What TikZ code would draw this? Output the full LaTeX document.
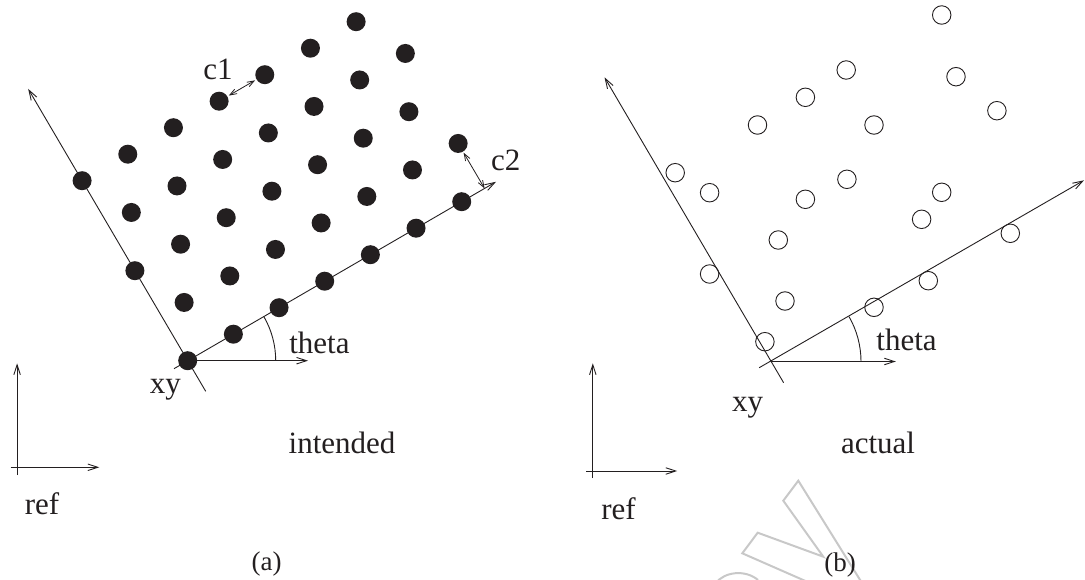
\documentclass[tikz,border=0pt]{standalone}
\usepackage{fontspec}
\setmainfont{Liberation Serif}
\usetikzlibrary{arrows.meta}
\definecolor{ink}{RGB}{35,31,32}
\definecolor{wm}{RGB}{200,200,200}
\begin{document}
\begin{tikzpicture}[x=1pt,y=-1pt,color=ink,
  dotf/.style={circle,fill=ink,inner sep=0pt,minimum size=19pt},
  dotc/.style={circle,draw=ink,line width=0.9pt,inner sep=0pt,minimum size=18.5pt},
  lbl/.style={text=ink,font=\fontsize{31}{36}\selectfont,inner sep=0pt},
  sublbl/.style={text=ink,font=\fontsize{27}{32}\selectfont,inner sep=0pt},
  axis/.style={draw=ink,line width=0.9pt,-{Straight Barb[length=10pt,width=6.5pt]}},
  plainline/.style={draw=ink,line width=0.9pt},
  dimarrow/.style={draw=ink,line width=0.8pt,{Straight Barb[length=7pt,width=5pt]}-{Straight Barb[length=7pt,width=5pt]}},
  wmline/.style={draw=wm,line width=2pt,line join=miter}]
\useasboundingbox (0,0) rectangle (1085,580);

% ---------- watermark ----------
\begin{scope}
\clip (0,0) rectangle (1085,580);
\draw[wmline] (862,583) -- (798.3,480.7) -- (783.3,500.7) -- (823.3,556.7) -- (757.7,532.7) -- (742.3,553.3) -- (810,583);
\draw[wmline] (716,583) .. controls (724,572) and (745,569) .. (758,580);
\end{scope}

% ---------- panel (a): coordinates ----------
\coordinate (Oa) at (187.7,360.7);
\coordinate (laTail) at (205.7,391.3);
\coordinate (laTip) at (28.2,88.9);
\coordinate (baTail) at (174,368.7);
\coordinate (baTip) at (496,181.8);
\coordinate (haTip) at (308,360.7);
\coordinate (arcAs) at (275.7,360.7);
\coordinate (c2foot) at (484.6,188.45);
\coordinate (raV0) at (17.1,475);
\coordinate (raV1) at (17.1,363.3);
\coordinate (raH0) at (10.7,467.3);
\coordinate (raH1) at (99.3,467.3);

\draw[axis] (laTail) -- (laTip);
\draw[axis] (baTail) -- (baTip);
\draw[axis] (Oa) -- (haTip);
\draw[plainline] (arcAs) arc[start angle=0,end angle=30,radius=88pt];
\draw[axis] (raV0) -- (raV1);
\draw[axis] (raH0) -- (raH1);

\foreach \vv in {0,...,4}{
  \pgfmathsetmacro\off{mod(\vv,2)*0.5}
  \foreach \kk in {0,...,6}{
    \pgfmathsetmacro\uu{\kk+\off}
    \node[dotf] (a-\kk-\vv) at ({187.7+45.67*\uu-26.4*\vv},{360.7-26.5*\uu-45*\vv}) {};
  }
}

\draw[dimarrow,shorten <=1.5pt,shorten >=1.5pt] (a-3-4) -- (a-4-4);
\draw[dimarrow,shorten <=1pt] (a-6-1) -- (c2foot);

\node[lbl] (c1) at (218,69.5) {c1};
\node[lbl] (c2) at (505.8,160.8) {c2};
\node[lbl] (thetaA) at (319.4,342.5) {theta};
\node[lbl] (xyA) at (165.3,390) {xy};
\node[lbl] (intended) at (342.1,442.5) {intended};
\node[lbl] (refA) at (42,503.3) {ref};
\node[sublbl] (capA) at (266.7,564.2) {(a)};

% ---------- panel (b) ----------
\coordinate (Ob) at (771,361.5);
\coordinate (lbTail) at (783.6,382.7);
\coordinate (lbTip) at (604.5,77.3);
\coordinate (bbTail) at (759.2,367.7);
\coordinate (bbTip) at (1084,180.3);
\coordinate (hbTip) at (895.8,361.5);
\coordinate (arcBs) at (861,361.5);
\coordinate (rbV0) at (592.8,478);
\coordinate (rbV1) at (592.8,363.3);
\coordinate (rbH0) at (586,471);
\coordinate (rbH1) at (677.2,471);

\draw[axis] (lbTail) -- (lbTip);
\draw[axis] (bbTail) -- (bbTip);
\draw[axis] (Ob) -- (hbTip);
\draw[plainline] (arcBs) arc[start angle=0,end angle=30,radius=90pt];
\draw[axis] (rbV0) -- (rbV1);
\draw[axis] (rbH0) -- (rbH1);

\foreach \px/\py [count=\i] in {941.7/15, 846.2/70, 956/76.7, 805.4/97.3, 757.5/125,
  874/125, 996.9/110.7, 675.2/172.7, 709.6/192.7, 846.9/179.3,
  805.4/199.3, 941.7/192.3, 921.6/219.3, 1010.3/233.3, 778.3/240,
  709.6/274, 928.3/280.7, 785/301, 874/307.3, 764.9/341.7}{
  \node[dotc] (b-\i) at (\px,\py) {};
}

\node[lbl] (thetaB) at (906.5,340) {theta};
\node[lbl] (xyB) at (747.5,408) {xy};
\node[lbl] (actual) at (878,443.3) {actual};
\node[lbl] (refB) at (618.6,508.3) {ref};
\node[sublbl] (capB) at (840,564.8) {(b)};
\end{tikzpicture}
\end{document}
